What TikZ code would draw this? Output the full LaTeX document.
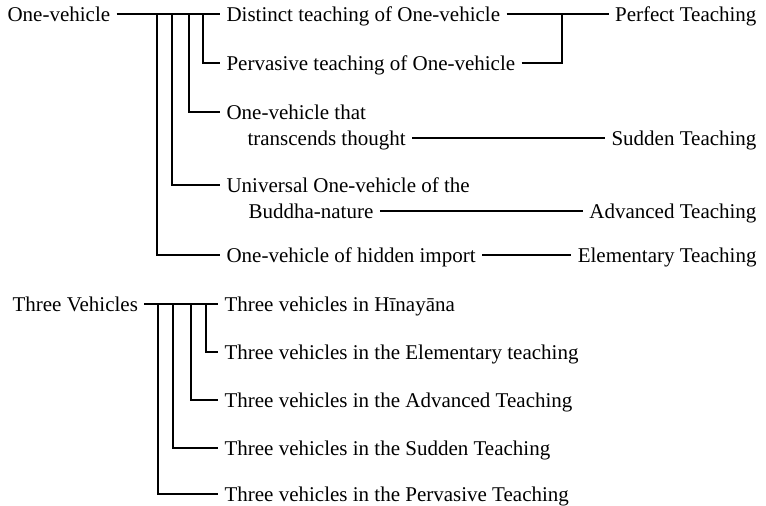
\documentclass[tikz,border=0pt]{standalone}
\usepackage{fontspec}
\setmainfont{Liberation Serif}
\begin{document}
\begin{tikzpicture}[x=1pt,y=-1pt,line width=1.1pt,
  every node/.style={inner xsep=6pt,inner ysep=0pt,text height=15pt,text depth=0pt,
    font=\fontsize{21}{25}\selectfont},
  lbl/.style={anchor=west},
  rlbl/.style={anchor=east}]
\useasboundingbox (0,0) rectangle (766,506);
% One-vehicle
\node[lbl] (one) at (1,14) {One-vehicle};
\node[lbl] (dist) at (220,14) {Distinct teaching of One-vehicle};
\node[lbl] (perv) at (220,63) {Pervasive teaching of One-vehicle};
\node[lbl] (trsA) at (220,112) {One-vehicle that};
\node[lbl] (trsB) at (241,138) {transcends thought};
\node[lbl] (uniA) at (220,185) {Universal One-vehicle of the};
\node[lbl] (uniB) at (242,211) {Buddha-nature};
\node[lbl] (hid) at (220,255) {One-vehicle of hidden import};
\node[rlbl] (perf) at (763,14) {Perfect Teaching};
\node[rlbl] (sudd) at (763,138) {Sudden Teaching};
\node[rlbl] (adv) at (763,211) {Advanced Teaching};
\node[rlbl] (elem) at (763,255) {Elementary Teaching};
\coordinate (o1) at (203,14);
\coordinate (o2) at (189,14);
\coordinate (o3) at (172,14);
\coordinate (o4) at (157,14);
\coordinate (pk) at (562,14);
\draw (one.east) -- (dist.west);
\draw (o1) |- (perv.west);
\draw (o2) |- (trsA.west);
\draw (o3) |- (uniA.west);
\draw (o4) |- (hid.west);
\draw (dist.east) -- (perf.west);
\draw (perv.east) -| (pk);
\draw (trsB.east) -- (sudd.west);
\draw (uniB.east) -- (adv.west);
\draw (hid.east) -- (elem.west);
% Three Vehicles
\node[lbl] (three) at (6,304) {Three Vehicles};
\node[lbl] (hina) at (218,304) {Three vehicles in Hīnayāna};
\node[lbl] (tele) at (218,352) {Three vehicles in the Elementary teaching};
\node[lbl] (tadv) at (218,400) {Three vehicles in the Advanced Teaching};
\node[lbl] (tsud) at (218,448) {Three vehicles in the Sudden Teaching};
\node[lbl] (tper) at (218,494) {Three vehicles in the Pervasive Teaching};
\coordinate (t1) at (206,304);
\coordinate (t2) at (191,304);
\coordinate (t3) at (173,304);
\coordinate (t4) at (158,304);
\draw (three.east) -- (hina.west);
\draw (t1) |- (tele.west);
\draw (t2) |- (tadv.west);
\draw (t3) |- (tsud.west);
\draw (t4) |- (tper.west);
\end{tikzpicture}
\end{document}
